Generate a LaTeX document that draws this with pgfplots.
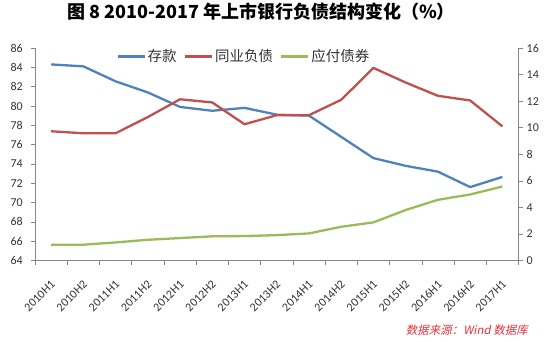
\documentclass[border=0pt]{standalone}
\usepackage{pgfplots}
\pgfplotsset{compat=1.18}
\usepackage{fontspec}
\setmainfont{Carlito}
\newfontfamily\cjk{Noto Sans CJK SC}
\newfontfamily\cjkit[FakeSlant=0.2]{Noto Sans CJK SC}
\definecolor{cblue}{HTML}{4F81BD}
\definecolor{cred}{HTML}{C0504D}
\definecolor{cgreen}{HTML}{9BBB59}
\definecolor{axgray}{HTML}{868686}
\definecolor{srcred}{HTML}{E8313B}
\definecolor{lblc}{HTML}{333333}
\begin{document}
\begin{tikzpicture}[x=1pt,y=1pt]
\useasboundingbox (0,0) rectangle (550,341);
\pgfplotsset{
  base/.style={
    at={(35pt,80.5pt)}, anchor=south west,
    scale only axis, width=483.5pt, height=212.5pt,
    xmin=-0.5, xmax=14.5,
    /pgf/number format/assume math mode=true,
    tick align=outside,
    major tick length=4pt,
    every tick/.style={axgray, line width=0.6pt},
    axis line style={axgray, line width=0.6pt},
    ticklabel style={font=\fontsize{12}{12}\selectfont, text=lblc},
  },
}
\begin{axis}[base,
  ymin=64, ymax=86, ytick={64,66,...,86},
  axis y line*=left, axis x line*=bottom,
  xtick={0,...,14},
  xticklabels={2010H1,2010H2,2011H1,2011H2,2012H1,2012H2,2013H1,2013H2,2014H1,2014H2,2015H1,2015H2,2016H1,2016H2,2017H1},
  major x tick style={draw=none},
  minor xtick={-0.5,0.5,...,14.5},
  minor tick length=4pt,
  minor x tick style={axgray, line width=0.6pt},
  xticklabel style={xshift=-1pt, yshift=-15pt, rotate=45, anchor=north east, inner sep=0pt},
  yticklabel style={anchor=east, inner sep=0pt, xshift=-8pt},
]
\addplot[cblue, line width=2.3pt, line join=round] coordinates {
(0,84.3) (1,84.1) (2,82.55) (3,81.4) (4,79.9) (5,79.5) (6,79.8) (7,79.1)
(8,79.0) (9,76.8) (10,74.6) (11,73.8) (12,73.2) (13,71.6) (14,72.65)};
\end{axis}
\begin{axis}[base,
  ymin=0, ymax=16, ytick={0,2,...,16},
  axis y line*=right, axis x line=none,
  yticklabel style={anchor=west, inner sep=0pt, xshift=4pt},
  legend style={draw=none, fill=none, legend columns=3,
    at={(axis description cs:0.168,0.96)}, anchor=west,
    font=\cjk\fontsize{14.5}{14.5}\selectfont, text=lblc,
    /tikz/every even column/.append style={column sep=5pt},
    inner sep=0pt},
  legend image code/.code={\draw[#1] (0pt,0pt) -- (27pt,0pt);},
]
\addlegendimage{cblue, line width=2.3pt}
\addlegendentry{存款}
\addplot[cred, line width=2.3pt, line join=round] coordinates {
(0,9.73) (1,9.58) (2,9.58) (3,10.8) (4,12.14) (5,11.9) (6,10.26) (7,10.94)
(8,10.94) (9,12.1) (10,14.5) (11,13.4) (12,12.4) (13,12.05) (14,10.1)};
\addlegendentry{同业负债}
\addplot[cgreen, line width=2.3pt, line join=round] coordinates {
(0,1.19) (1,1.19) (2,1.36) (3,1.56) (4,1.69) (5,1.82) (6,1.84) (7,1.91)
(8,2.04) (9,2.54) (10,2.87) (11,3.8) (12,4.57) (13,4.97) (14,5.57)};
\addlegendentry{应付债券}
\end{axis}
\node[font=\cjk\bfseries\fontsize{18}{18}\selectfont, text=black] at (261,329.5) {图 8 2010-2017 年上市银行负债结构变化（\%）};
\node[anchor=east, font=\cjkit\fontsize{11.5}{12}\selectfont, text=srcred, inner sep=0pt] at (528,11) {数据来源：Wind 数据库};
\end{tikzpicture}
\end{document}
